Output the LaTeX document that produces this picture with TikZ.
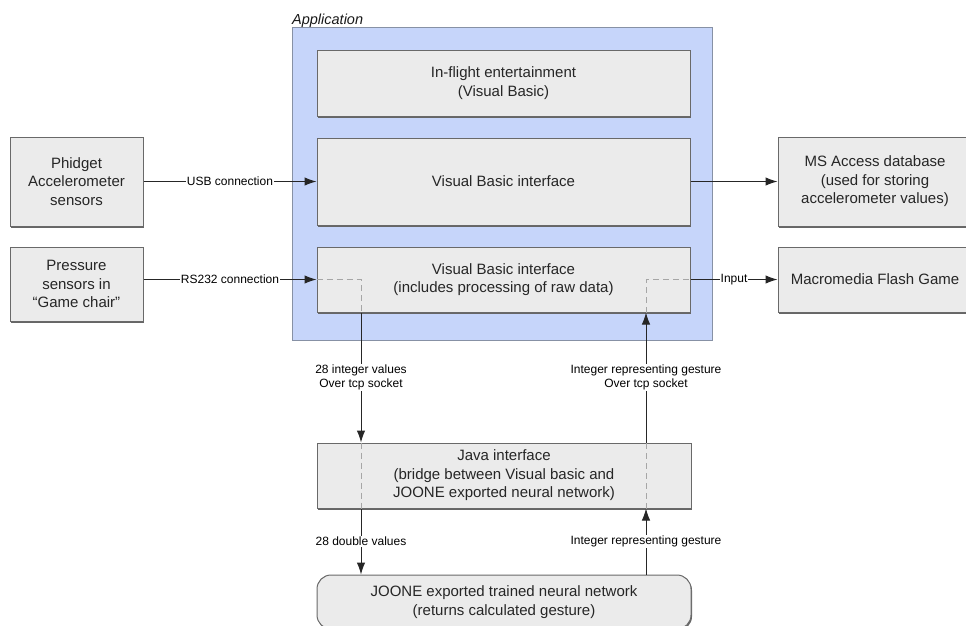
\documentclass[tikz,border=0pt]{standalone}
\usepackage{fontspec}
\setmainfont{Liberation Sans}
\usetikzlibrary{arrows.meta,shadows}

\definecolor{appfill}{RGB}{198,213,250}
\definecolor{appline}{RGB}{135,145,165}
\definecolor{boxfill}{RGB}{235,235,235}
\definecolor{boxline}{RGB}{105,105,105}

\tikzset{
  box/.style={draw=boxline, fill=boxfill, line width=1pt, align=center,
    text=black!85, font=\fontsize{15}{18.5}\selectfont,
    drop shadow={shadow xshift=1pt, shadow yshift=-1.5pt, fill=black!60, opacity=1}},
  conn/.style={draw=black!85, line width=1pt, -{Latex[length=12pt,width=8.5pt]}},
  inner/.style={draw=black!35, line width=0.9pt, dash pattern=on 6pt off 4pt},
  lbl/.style={fill=white, inner sep=1pt, align=center, text=black,
    font=\fontsize{12}{14.5}\selectfont}
}

\begin{document}
\begin{tikzpicture}[x=1pt,y=-1pt]
\useasboundingbox (0,0) rectangle (966,625);

% application frame
\node[draw=appline, fill=appfill, line width=1pt, minimum width=420, minimum height=313, inner sep=0] (app) at (502,183.5) {};
\node[anchor=base west, inner sep=0, font=\fontsize{14.5}{17}\selectfont\itshape, text=black!90] (applabel) at (292,24) {Application};

% boxes inside the application
\node[box, minimum width=373, minimum height=66] (flight) at (503.5,83) {In-flight entertainment\\(Visual Basic)};
\node[box, minimum width=373, minimum height=87] (vbusb) at (503.5,181.5) {Visual Basic interface};
\node[box, minimum width=373, minimum height=65] (vbraw) at (503.5,279.5) {Visual Basic interface\\(includes processing of raw data)};

% sensors
\node[box, minimum width=133, minimum height=89] (phid) at (76.5,181.5) {Phidget\\Accelerometer\\sensors};
\node[box, minimum width=133, minimum height=74] (press) at (76.5,284) {Pressure\\sensors in\\``Game chair''};

% outputs
\node[box, minimum width=194, minimum height=89] (msa) at (875,181.5) {MS Access database\\(used for storing\\accelerometer values)};
\node[box, minimum width=194, minimum height=65] (mac) at (875,279.5) {Macromedia Flash Game};

% java side
\node[box, minimum width=374, minimum height=65] (java) at (504,475.5) {Java interface\\(bridge between Visual basic and\\JOONE exported neural network)};
\node[box, rounded corners=14pt, minimum width=374, minimum height=54] (joone) at (504,602) {JOONE exported trained neural network\\(returns calculated gesture)};

\coordinate (dn) at (361,0);
\coordinate (up) at (646,0);

% dashed paths through the boxes
\draw[inner] (vbraw.west) -| (vbraw.south -| dn);
\draw[inner] (java.north -| dn) -- (java.south -| dn);
\draw[inner] (java.south -| up) -- (java.north -| up);
\draw[inner] (vbraw.south -| up) |- (vbraw.east);

% connections
\draw[conn] (phid.east) -- node[lbl] {USB connection} (vbusb.west);
\draw[conn] (press.east |- vbraw.west) -- node[lbl] {RS232 connection} (vbraw.west);
\draw[conn] (vbusb.east) -- (msa.west);
\draw[conn] (vbraw.east) -- node[lbl] {Input} (mac.west);

\draw[conn] (vbraw.south -| dn) -- node[lbl] {28 integer values\\Over tcp socket} (java.north -| dn);
\draw[conn] (java.south -| dn) -- node[lbl] {28 double values} (joone.north -| dn);
\draw[conn] (joone.north -| up) -- node[lbl] {Integer representing gesture} (java.south -| up);
\draw[conn] (java.north -| up) -- node[lbl] {Integer representing gesture\\Over tcp socket} (vbraw.south -| up);

\end{tikzpicture}
\end{document}
